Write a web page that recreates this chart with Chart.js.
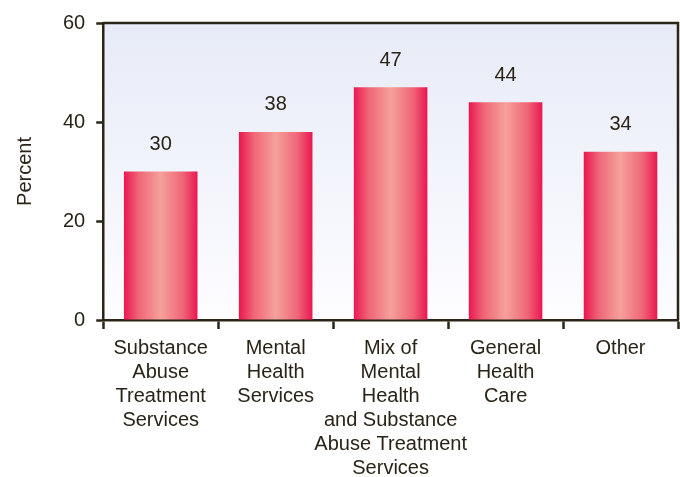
<!DOCTYPE html>
<html>
<head>
<meta charset="utf-8">
<script src="https://cdn.jsdelivr.net/npm/chart.js@4/dist/chart.umd.min.js"></script>
<style>
  html, body { margin: 0; padding: 0; background: #fff; }
  #wrap { width: 680px; height: 477px; }
</style>
</head>
<body>
<div id="wrap"><canvas id="myChart"></canvas></div>
<script>
// chart data
var categories = [
    ["Substance", "Abuse", "Treatment", "Services"],
    ["Mental", "Health", "Services"],
    ["Mix of", "Mental", "Health", "and Substance", "Abuse Treatment", "Services"],
    ["General", "Health", "Care"],
    ["Other"]
];
var values = [30, 38, 47, 44, 34];
var yTicks = [0, 20, 40, 60];
var yTitle = "Percent";

var axisColor = '#2b2517';
var textColor = '#2a2418';
var fontFam = '"Liberation Sans", Arial, sans-serif';
var barPct = 0.64;

function barGradient(c) {
    var chart = c.chart;
    if (!chart.chartArea) return '#ee5a72';
    var xs = chart.scales.x;
    var cx = xs.getPixelForValue(c.dataIndex);
    var w = (chart.chartArea.width / categories.length) * barPct;
    var g = chart.ctx.createLinearGradient(cx - w / 2, 0, cx + w / 2, 0);
    g.addColorStop(0, '#ea1750');
    g.addColorStop(0.2, '#ef6577');
    g.addColorStop(0.5, '#f5a19b');
    g.addColorStop(0.8, '#ef6577');
    g.addColorStop(1, '#ea1750');
    return g;
}

// plot background + top/right frame
var framePlugin = {
    id: 'frame',
    beforeDraw: function (chart) {
        var a = chart.chartArea, ctx = chart.ctx;
        var g = ctx.createLinearGradient(0, a.top, 0, a.bottom);
        g.addColorStop(0, '#e7ebf7');
        g.addColorStop(1, '#fdfdff');
        ctx.save();
        ctx.fillStyle = g;
        ctx.fillRect(a.left, a.top, a.width, a.height);
        ctx.restore();
    },
    afterDraw: function (chart) {
        var a = chart.chartArea, ctx = chart.ctx;
        ctx.save();
        ctx.strokeStyle = axisColor;
        ctx.lineWidth = 2.5;
        ctx.beginPath();
        ctx.moveTo(a.left, a.top);
        ctx.lineTo(a.right, a.top);
        ctx.lineTo(a.right, a.bottom);
        ctx.stroke();
        ctx.restore();
    }
};

// numbers above bars
var labelPlugin = {
    id: 'barLabels',
    afterDatasetsDraw: function (chart) {
        var ctx = chart.ctx;
        var meta = chart.getDatasetMeta(0);
        ctx.save();
        ctx.font = '20px ' + fontFam;
        ctx.fillStyle = textColor;
        ctx.textAlign = 'center';
        ctx.textBaseline = 'bottom';
        meta.data.forEach(function (bar, i) {
            ctx.fillText(values[i], bar.x, bar.y - 17);
        });
        ctx.restore();
    }
};

window.onload = function () {
    var ctx = document.getElementById('myChart').getContext('2d');
    new Chart(ctx, {
        type: 'bar',
        data: {
            labels: categories,
            datasets: [{
                data: values,
                backgroundColor: barGradient,
                borderWidth: 0,
                barPercentage: barPct,
                categoryPercentage: 1.0
            }]
        },
        options: {
            responsive: true,
            maintainAspectRatio: false,
            animation: false,
            layout: { padding: { top: 22, right: 2, left: 13, bottom: -10 } },
            plugins: {
                legend: { display: false },
                tooltip: { enabled: false }
            },
            scales: {
                x: {
                    grid: {
                        offset: true,
                        drawOnChartArea: false,
                        tickLength: 9,
                        tickWidth: 2.5,
                        tickColor: axisColor
                    },
                    border: { color: axisColor, width: 2.5 },
                    ticks: {
                        color: textColor,
                        maxRotation: 0,
                        autoSkip: false,
                        padding: 7,
                        font: { family: fontFam, size: 20, lineHeight: 1.2 }
                    }
                },
                y: {
                    min: 0,
                    max: 60,
                    afterBuildTicks: function (s) {
                        s.ticks = yTicks.map(function (v) { return { value: v }; });
                    },
                    grid: {
                        drawOnChartArea: false,
                        tickLength: 7,
                        tickWidth: 2.5,
                        tickColor: axisColor
                    },
                    border: { color: axisColor, width: 2.5 },
                    ticks: {
                        color: textColor,
                        padding: 11,
                        font: { family: fontFam, size: 20 }
                    },
                    title: {
                        display: true,
                        text: yTitle,
                        color: textColor,
                        padding: { top: 0, bottom: 15 },
                        font: { family: fontFam, size: 20 }
                    }
                }
            }
        },
        plugins: [framePlugin, labelPlugin]
    });
};
</script>
</body>
</html>
